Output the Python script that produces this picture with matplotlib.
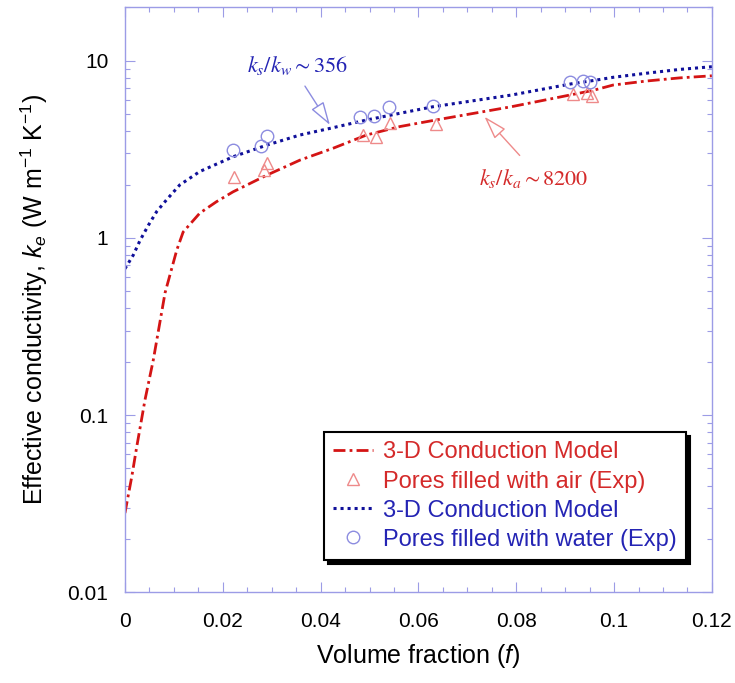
import matplotlib
matplotlib.use('Agg')
import matplotlib.pyplot as plt
from matplotlib.ticker import FixedLocator, MultipleLocator, NullFormatter

plt.rcParams['font.family'] = ['Liberation Sans', 'DejaVu Sans']
plt.rcParams['mathtext.fontset'] = 'custom'
plt.rcParams['mathtext.rm'] = 'Liberation Sans'
plt.rcParams['mathtext.it'] = 'Liberation Sans:italic'

# 3-D conduction model, pores filled with air
air_model_f = [0, 0.0014, 0.0024, 0.0041, 0.0058, 0.0082, 0.0106, 0.0119, 0.0153,
               0.0187, 0.0221, 0.029, 0.0358, 0.0426, 0.0494, 0.0562, 0.063, 0.079,
               0.0957, 0.0998, 0.1066, 0.1134, 0.12]
air_model_k = [0.028, 0.045, 0.066, 0.122, 0.205, 0.49, 0.855, 1.08, 1.38,
               1.6, 1.82, 2.26, 2.75, 3.21, 3.81, 4.25, 4.6, 5.5,
               6.8, 7.29, 7.68, 8.0, 8.22]

# 3-D conduction model, pores filled with water
water_model_f = [0, 0.0017, 0.0031, 0.0048, 0.0065, 0.0085, 0.0112, 0.0153, 0.0221,
                 0.029, 0.0358, 0.0419, 0.0494, 0.0562, 0.063, 0.079, 0.0912,
                 0.0964, 0.0998, 0.1066, 0.1134, 0.12]
water_model_k = [0.67, 0.80, 0.97, 1.18, 1.41, 1.64, 1.99, 2.37, 2.87,
                 3.34, 3.81, 4.15, 4.63, 5.05, 5.5, 6.4, 7.4,
                 7.78, 8.06, 8.5, 8.93, 9.25]

# experiments
air_exp_f = [0.0223, 0.0284, 0.029, 0.0486, 0.0513, 0.0542, 0.0635, 0.0916, 0.0944, 0.0954]
air_exp_k = [2.2, 2.42, 2.66, 3.81, 3.73, 4.47, 4.4, 6.46, 6.6, 6.3]
water_exp_f = [0.022, 0.0279, 0.029, 0.048, 0.0509, 0.054, 0.063, 0.091, 0.0937, 0.0951]
water_exp_k = [3.13, 3.30, 3.76, 4.79, 4.87, 5.5, 5.52, 7.55, 7.67, 7.6]

x_ticks = [0, 0.02, 0.04, 0.06, 0.08, 0.1, 0.12]
x_ticklabels = ['0', '0.02', '0.04', '0.06', '0.08', '0.1', '0.12']
y_ticks = [0.01, 0.1, 1, 10]
y_ticklabels = ['0.01', '0.1', '1', '10']

frame_col = '#9c9ce6'
red = '#d41414'
blue = '#10109a'
red_txt = '#d42a2a'
blue_txt = '#2424b4'

fig = plt.figure(figsize=(7.35, 6.83), dpi=100)
ax = fig.add_axes([0.170, 0.1328, 0.7986, 0.8564])

ax.plot(air_model_f, air_model_k, color=red, lw=2.0,
        linestyle=(0, (4.3, 1.5, 1.0, 1.5)), label='3-D Conduction Model')
ax.plot(air_exp_f, air_exp_k, linestyle='none', marker='^', ms=9, mfc='none',
        mec='#ee8a8a', mew=1.0, label='Pores filled with air (Exp)')
ax.plot(water_model_f, water_model_k, color=blue, lw=2.2,
        linestyle=(0, (1.0, 1.3)), label='3-D Conduction Model')
ax.plot(water_exp_f, water_exp_k, linestyle='none', marker='o', ms=9, mfc='none',
        mec='#8c8ce0', mew=1.0, label='Pores filled with water (Exp)')

ax.set_yscale('log')
ax.set_xlim(0, 0.12)
ax.set_ylim(0.01, 20)

ax.xaxis.set_major_locator(FixedLocator(x_ticks))
ax.set_xticklabels(x_ticklabels)
ax.xaxis.set_minor_locator(MultipleLocator(0.005))
ax.yaxis.set_major_locator(FixedLocator(y_ticks))
ax.set_yticklabels(y_ticklabels)
ax.yaxis.set_minor_locator(FixedLocator([m * d for d in (0.01, 0.1, 1, 10) for m in range(2, 10)]))
ax.yaxis.set_minor_formatter(NullFormatter())

for s in ax.spines.values():
    s.set_color(frame_col)
    s.set_linewidth(1.0)
ax.tick_params(which='both', direction='in', top=True, right=True, color=frame_col, width=0.8)
ax.tick_params(which='major', length=7.2)
ax.tick_params(which='minor', length=3.6)
ax.tick_params(axis='x', which='major', labelsize=15, pad=14)
ax.tick_params(axis='y', which='major', labelsize=15, pad=12)

ax.set_xlabel('Volume fraction ($f$)', fontsize=18)
ax.set_ylabel('Effective conductivity, $k_e$ (W m$^{-1}$ K$^{-1}$)', fontsize=18)
ax.xaxis.set_label_coords(0.5, -0.085)
ax.yaxis.set_label_coords(-0.128, 0.5)

# annotations
ax.annotate('', xy=(0.0419, 4.34), xytext=(0.0368, 7.19),
            arrowprops=dict(arrowstyle='-|>,head_length=0.8,head_width=0.25',
                            fc='white', ec='#8c8ce0', lw=1.0, mutation_scale=18,
                            shrinkA=0, shrinkB=0))
ax.text(0.025, 8.63, r'$k_s/k_w \sim 356$', color=blue_txt, fontsize=16,
        math_fontfamily='stix', ha='left', va='baseline')
ax.annotate('', xy=(0.0735, 4.83), xytext=(0.0807, 2.92),
            arrowprops=dict(arrowstyle='-|>,head_length=0.8,head_width=0.25',
                            fc='white', ec='#ee8a8a', lw=1.0, mutation_scale=18,
                            shrinkA=0, shrinkB=0))
ax.text(0.0724, 1.99, r'$k_s/k_a \sim 8200$', color=red_txt, fontsize=16,
        math_fontfamily='stix', ha='left', va='baseline')

leg = ax.legend(loc='upper right', bbox_to_anchor=(0.9557, 0.274), borderaxespad=0,
                fontsize=17, frameon=True, fancybox=False, handlelength=1.7,
                handletextpad=0.4, borderpad=0.4, labelspacing=0.3,
                shadow={'ox': 3, 'oy': -3, 'color': 'black', 'alpha': 1})
leg.get_frame().set_edgecolor('black')
leg.get_frame().set_linewidth(1.5)
for t, c in zip(leg.get_texts(), [red_txt, red_txt, blue_txt, blue_txt]):
    t.set_color(c)

fig.savefig('out.png', dpi=100)
